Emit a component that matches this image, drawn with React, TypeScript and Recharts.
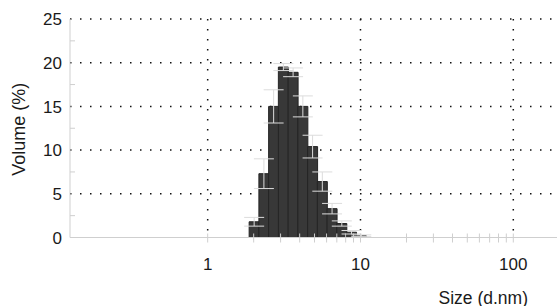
import React from 'react'
import {
  ComposedChart,
  Bar,
  ErrorBar,
  XAxis,
  YAxis,
  CartesianGrid,
  Cell,
} from 'recharts'

// size classes (d.nm), bar heights (volume %) and the light error whiskers
const sizes = [2.01, 2.328, 2.696, 3.122, 3.615, 4.187, 4.849, 5.615, 6.503, 7.531, 8.721, 10.1]
const volume = [1.8, 7.3, 15.0, 19.5, 18.9, 15.0, 10.4, 6.4, 3.3, 1.6, 0.6, 0.2]
const volumeErr = [0.5, 1.7, 1.9, 0.4, 0.5, 1.2, 1.3, 1.1, 0.6, 0.3, 0.2, 0.1]

const xTicks = [1, 2, 3, 4, 5, 6, 7, 8, 9, 10, 20, 30, 40, 50, 60, 70, 80, 90, 100]
const xLabels = [1, 10, 100]
const yTicks = [0, 2.5, 5, 7.5, 10, 12.5, 15, 17.5, 20, 22.5, 25]
const yLabels = [0, 5, 10, 15, 20, 25]

const font = '"Liberation Sans", Arial, sans-serif'
const axisGray = '#cfcfcf'

const data = sizes.map((s, i) => ({ size: s, volume: volume[i], err: volumeErr[i] }))

function XTick({ x, y, payload }: any) {
  const major = xLabels.includes(payload.value)
  return (
    <g>
      <line x1={x} x2={x} y1={y - 4} y2={y + 5} stroke={axisGray} />
      {major && (
        <text x={x} y={y + 32} textAnchor="middle" fontSize={17} fontFamily={font} fill="#1a1a1a">
          {payload.value}
        </text>
      )}
    </g>
  )
}

function YTick({ x, y, payload }: any) {
  const major = yLabels.includes(payload.value)
  return (
    <g>
      {!major && <line x1={x} x2={x + 5} y1={y} y2={y} stroke={axisGray} />}
      {major && (
        <text x={x - 8} y={y} dy="0.36em" textAnchor="end" fontSize={17} fontFamily={font} fill="#1a1a1a">
          {payload.value}
        </text>
      )}
    </g>
  )
}

export default function App() {
  return (
    <div style={{ width: 557, height: 306, background: '#fff' }}>
      <style>{'body{margin:0}'}</style>
      <ComposedChart
        width={557}
        height={306}
        data={data}
        margin={{ top: 19, right: 0, bottom: 0, left: 0 }}
        barCategoryGap={0}
        barGap={0}
      >
        <CartesianGrid
          stroke="#111"
          strokeWidth={1.5}
          strokeDasharray="1.5 8.5"
          horizontalValues={[5, 10, 15, 20, 25]}
          verticalValues={[1, 10, 100]}
        />
        <XAxis
          dataKey="size"
          type="number"
          scale="log"
          domain={[0.1256, 193.2]}
          allowDataOverflow
          ticks={xTicks}
          interval={0}
          height={68.5}
          tickSize={0}
          tickMargin={0}
          stroke={axisGray}
          tick={<XTick />}
          label={{
            content: ({ viewBox }: any) => (
              <text
                x={viewBox.x + viewBox.width - 29}
                y={viewBox.y + 66}
                textAnchor="end"
                fontSize={17.5}
                fontFamily={font}
                fill="#1a1a1a"
              >
                Size (d.nm)
              </text>
            ),
          }}
        />
        <YAxis
          type="number"
          domain={[0, 25]}
          ticks={yTicks}
          interval={0}
          width={70}
          tickSize={0}
          tickMargin={0}
          stroke={axisGray}
          tick={<YTick />}
          label={{
            content: ({ viewBox }: any) => {
              const cx = 19
              const cy = viewBox.y + viewBox.height / 2 + 1
              return (
                <text
                  x={cx}
                  y={cy}
                  transform={`rotate(-90, ${cx}, ${cy})`}
                  textAnchor="middle"
                  dominantBaseline="central"
                  fontSize={18}
                  fontFamily={font}
                  fill="#1a1a1a"
                >
                  Volume (%)
                </text>
              )
            },
          }}
        />
        <Bar dataKey="volume" fill="#383838" stroke="#242424" strokeWidth={1} isAnimationActive={false}>
          {data.map((_, i) => (
            <Cell key={`c-${i}`} fill="#383838" />
          ))}
          <ErrorBar dataKey="err" width={10} stroke="#dcdcdc" strokeWidth={1} direction="y" />
        </Bar>
      </ComposedChart>
    </div>
  )
}
